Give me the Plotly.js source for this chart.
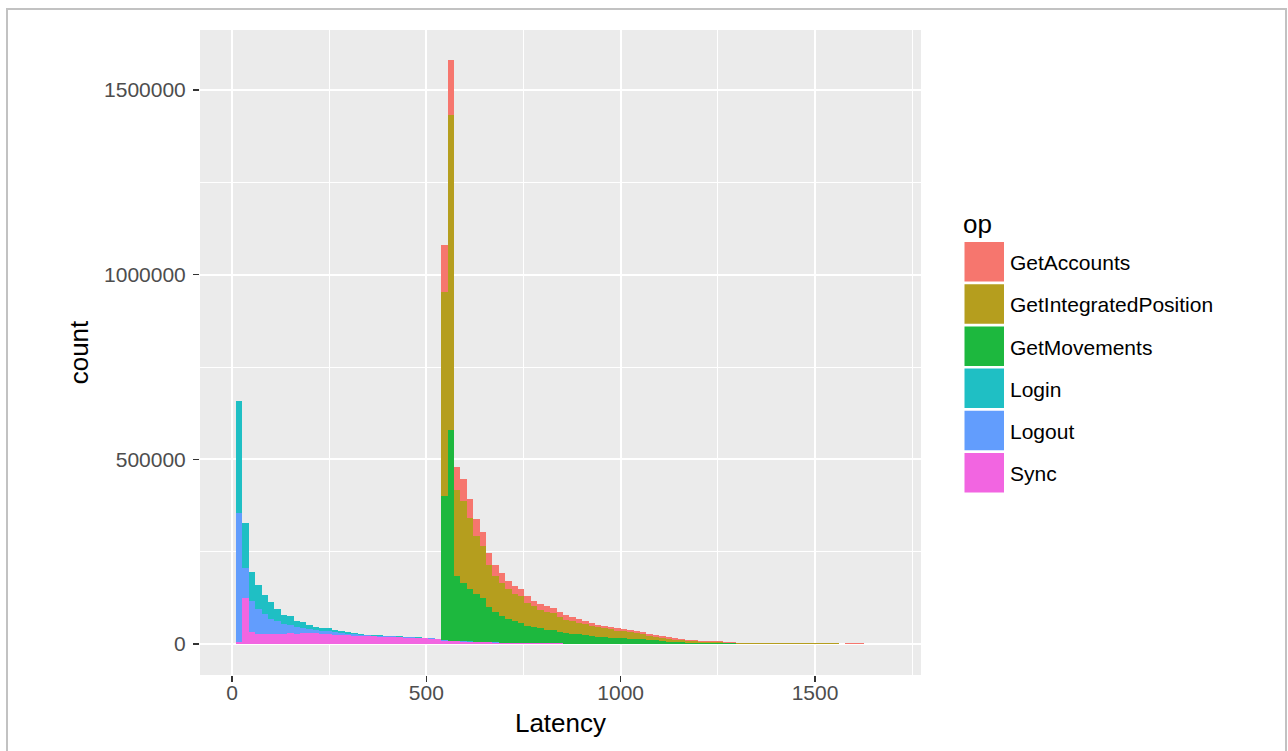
<!DOCTYPE html>
<html>
<head>
<meta charset="utf-8">
<script src="https://cdn.plot.ly/plotly-3.0.1.min.js"></script>
<style>
html, body { margin: 0; padding: 0; background: #ffffff; }
#chart { width: 1288px; height: 751px; position: absolute; left: 0; top: 0; }
#frame { position: absolute; left: 6px; top: 8px; width: 1281px; height: 760px;
  border: 2px solid #c2c2c2; border-bottom: none; box-sizing: border-box; pointer-events: none; }
</style>
</head>
<body>
<div id="chart"></div>
<div id="frame"></div>
<script>
// ---- Histogram bins (Latency) ----
const binStart = 10;      // left edge of first bin
const binWidth = 16.5;    // bin width
const binCount = 100;

// ---- Series (legend order) ----
const opNames = ["GetAccounts", "GetIntegratedPosition", "GetMovements", "Login", "Logout", "Sync"];
const opColors = ["#F6766E", "#B59E1E", "#1DB83E", "#1FBFC4", "#629DFD", "#F265E1"];

// first bin index of each series' counts
const syncFirstBin = 0;
const logoutFirstBin = 0;
const loginFirstBin = 0;
const movementsFirstBin = 32;
const integratedFirstBin = 32;
const accountsFirstBin = 32;

// counts per bin
const syncCounts = [4500, 125000, 33000, 26000, 26000, 26000, 26000, 26000, 29000, 27000,
  30000, 30000, 29000, 27000, 27000, 25000, 24000, 23000, 22500, 22000,
  21000, 20500, 20000, 19500, 19000, 18000, 17000, 16500, 16000, 15000,
  14000, 13000, 9000, 8000, 7000, 6500, 6000, 5500, 5000, 4500,
  4000, 3500, 3000, 3000, 2500, 2500, 2000, 2000, 1800, 1600,
  1400, 1200, 1100, 1000, 900, 800, 700, 600, 500, 500,
  400, 400, 300, 300, 300, 200, 200];

const logoutCounts = [350000, 80000, 83000, 70000, 54000, 41000, 35000, 27000, 21500, 18000,
  13000, 10000, 9000, 9000, 7000, 7000, 6000, 5000, 4500, 3000,
  2500, 2200, 2000, 1800, 1600, 1500, 1400, 1300, 1200, 1100,
  1000, 1000, 800, 700, 600, 500, 500, 400, 400, 300,
  300, 200, 200, 200, 100, 100];

const loginCounts = [303000, 122000, 78000, 63000, 54000, 48000, 33000, 26000, 24500, 18000,
  16000, 10500, 9000, 6000, 8000, 6000, 4000, 4000, 3700, 2000,
  2000, 1800, 1600, 1500, 1400, 1200, 1100, 1000, 1000, 900,
  900, 800, 600, 500, 500, 400, 400, 300, 300, 300,
  200, 200, 200, 100, 100, 100];

const movementsCounts = [390000, 570000, 175000, 157000, 143000, 128000, 118000, 94000, 83000, 72000,
  65000, 59000, 55000, 47000, 44000, 40000, 37000, 35000, 31000, 28000,
  26000, 25000, 23000, 21000, 19500, 18500, 17000, 16000, 15000, 14000,
  13500, 12600, 10800, 9900, 8100, 5400, 5400, 4500, 3600, 2700,
  2700, 1800, 1800, 1500, 1400, 1400, 1300, 1300, 1300, 1300,
  1300, 1300, 1300, 1300, 1300, 1300, 1300, 1300, 1300, 1300,
  1300, 1300];

const integratedCounts = [552000, 852000, 233000, 224000, 190000, 159000, 141000, 114000, 97000, 88000,
  81000, 74000, 72000, 62000, 56000, 51000, 47000, 46000, 40000, 36000,
  34000, 31000, 29000, 27000, 25000, 23500, 22000, 20000, 18500, 17000,
  15000, 13500, 9900, 8100, 8100, 8100, 6300, 5400, 5400, 4500,
  3600, 3600, 2700, 2700, 1800, 1500, 1200, 1000, 800, 600,
  500, 400, 300, 200, 200, 200, 100, 100, 100, 100,
  100, 200, 800, 800, 800, 700];

const accountsCounts = [129000, 149000, 63000, 59000, 52000, 45000, 38000, 33000, 29000, 27000,
  21000, 21000, 19000, 18000, 14000, 15000, 16000, 15000, 13000, 12000,
  11000, 10000, 9000, 8000, 7500, 7000, 7000, 6500, 6500, 6500,
  7000, 7200, 7200, 6300, 5400, 4500, 3600, 2700, 2700, 2700,
  2700, 2700, 3600, 2700, 2700, 1800, 1500, 1200, 1000, 900,
  800, 700, 600, 500, 400, 300, 300, 200, 200, 200,
  200, 200, 300, 700, 800, 800, 800, 700];

// ---- axis ticks ----
const xTickVals = [0, 500, 1000, 1500];
const yTickVals = [0, 500000, 1000000, 1500000];
const xTitle = "Latency";
const yTitle = "count";
const legendTitle = "op";

// ---- build full-length bin arrays ----
function fullBins(counts, first) {
  const out = new Array(binCount).fill(0);
  counts.forEach((c, i) => { if (first + i < binCount) out[first + i] = c; });
  return out;
}
const binCenters = Array.from({length: binCount}, (_, i) => binStart + binWidth * (i + 0.5));

const seriesCounts = {
  "GetAccounts": fullBins(accountsCounts, accountsFirstBin),
  "GetIntegratedPosition": fullBins(integratedCounts, integratedFirstBin),
  "GetMovements": fullBins(movementsCounts, movementsFirstBin),
  "Login": fullBins(loginCounts, loginFirstBin),
  "Logout": fullBins(logoutCounts, logoutFirstBin),
  "Sync": fullBins(syncCounts, syncFirstBin)
};

// stack: last legend entry at the bottom
const traces = [];
for (let k = opNames.length - 1; k >= 0; k--) {
  traces.push({
    type: "bar",
    name: opNames[k],
    x: binCenters,
    y: seriesCounts[opNames[k]],
    width: binWidth,
    marker: { color: opColors[k], line: { width: 0 } },
    showlegend: false,
    hoverinfo: "skip"
  });
}

// ---- geometry helpers (pixel -> paper) ----
const W = 1288, H = 751;
const mL = 200, mR = 367, mT = 30, mB = 76;
const pw = W - mL - mR, ph = H - mT - mB;
const px = v => (v - mL) / pw;
const py = v => (H - mB - v) / ph;

const fontFam = "Liberation Sans, Arial, sans-serif";

// ---- custom ggplot-style legend ----
const shapes = [];
const annotations = [];
const keyLeft = 964.5, keyRight = 1004, keyTop0 = 242, keyH = 39.5, keyPitch = 42.2;
opNames.forEach((n, i) => {
  const top = keyTop0 + keyPitch * i;
  shapes.push({
    type: "rect", xref: "paper", yref: "paper",
    x0: px(keyLeft), x1: px(keyRight), y0: py(top + keyH), y1: py(top),
    fillcolor: opColors[i], line: { width: 0 }, layer: "above"
  });
  annotations.push({
    xref: "paper", yref: "paper", x: px(1007.5), y: py(top + keyH / 2 + 1),
    xanchor: "left", yanchor: "middle", showarrow: false, text: n,
    font: { family: fontFam, size: 21, color: "#000000" }
  });
});
annotations.push({
  xref: "paper", yref: "paper", x: px(961), y: py(224),
  xanchor: "left", yanchor: "middle", showarrow: false, text: legendTitle,
  font: { family: fontFam, size: 26, color: "#000000" }
});

const axisCommon = {
  showline: false,
  zeroline: false,
  showgrid: true,
  gridcolor: "#ffffff",
  gridwidth: 2,
  ticks: "outside",
  ticklen: 6,
  tickwidth: 1.2,
  tickcolor: "#333333",
  tickfont: { family: fontFam, size: 21, color: "#4D4D4D" },
  minor: { showgrid: true, gridcolor: "#ffffff", gridwidth: 1, ticks: "" },
  fixedrange: true
};

const layout = {
  width: W, height: H,
  margin: { l: mL, r: mR, t: mT, b: mB, pad: 0 },
  paper_bgcolor: "#ffffff",
  plot_bgcolor: "#EBEBEB",
  barmode: "stack",
  bargap: 0,
  showlegend: false,
  xaxis: Object.assign({}, axisCommon, {
    range: [-82.3, 1772.6],
    tickmode: "array", tickvals: xTickVals, ticktext: xTickVals.map(String),
    ticklabelstandoff: -7,
    minor: Object.assign({}, axisCommon.minor, { tickmode: "linear", tick0: 250, dtick: 500 }),
    title: { text: xTitle, font: { family: fontFam, size: 26, color: "#000000" }, standoff: 10 }
  }),
  yaxis: Object.assign({}, axisCommon, {
    range: [-84000, 1662600],
    tickmode: "array", tickvals: yTickVals, ticktext: yTickVals.map(String),
    ticklabelstandoff: 3,
    minor: Object.assign({}, axisCommon.minor, { tickmode: "linear", tick0: 250000, dtick: 500000 }),
    title: { text: yTitle, font: { family: fontFam, size: 26, color: "#000000" }, standoff: 7 }
  }),
  shapes: shapes,
  annotations: annotations
};

Plotly.newPlot("chart", traces, layout, { displayModeBar: false, staticPlot: true });
</script>
</body>
</html>
